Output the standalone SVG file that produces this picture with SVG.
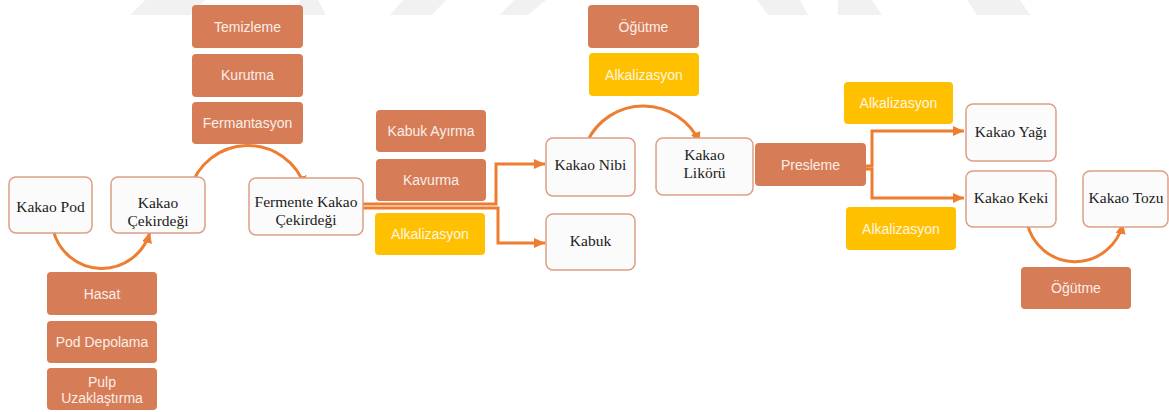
<svg xmlns="http://www.w3.org/2000/svg" width="1169" height="412" viewBox="0 0 1169 412">
<style>
.wm{fill:#f1f1f1}
.wb{fill:#fbfbfb;stroke:#dc9f86;stroke-width:1.5}
.ob{fill:#d67c57}
.yb{fill:#ffc000}
.st{font-family:"Liberation Serif","Times New Roman",serif;font-size:15.5px;fill:#1a1a1a;text-anchor:middle}
.ot{font-family:"Liberation Sans",Arial,sans-serif;font-size:14px;fill:#fbeee8;text-anchor:middle}
.yt{font-family:"Liberation Sans",Arial,sans-serif;font-size:14px;fill:#fff6e0;text-anchor:middle}
.cn{fill:none;stroke:#ed7d31;stroke-width:3;marker-end:url(#ah)}
</style>
<defs>
<marker id="ah" markerUnits="userSpaceOnUse" markerWidth="12" markerHeight="12" viewBox="0 0 12 12" refX="11" refY="6" orient="auto">
<path d="M0,1 L11,6 L0,11 Z" fill="#ed7d31"/>
</marker>
</defs>
<rect width="1169" height="412" fill="#ffffff"/>
<g id="watermark">
<polygon class="wm" points="130,15 145,0 205,0 190,15"/>
<polygon class="wm" points="298,15 300,0 318,0 326,15"/>
<polygon class="wm" points="390,15 403,0 446,0 432,15"/>
<polygon class="wm" points="500,15 514,0 546,0 528,15"/>
<polygon class="wm" points="757,0 800,0 808,15 768,15"/>
<polygon class="wm" points="838,0 872,0 882,15 838,15"/>
<polygon class="wm" points="967,0 1020,0 1030,15 977,15"/>
</g>
<g id="connectors">
<path class="cn" d="M53,229 A50,50 0 0 0 150,232"/>
<path class="cn" d="M190,190 A60,60 0 0 1 305,187"/>
<path class="cn" d="M587,142 A62,62 0 0 1 700,143"/>
<path class="cn" d="M1027,222 A49,49 0 0 0 1123,223"/>
<path class="cn" d="M363,204 H496 V164 H545"/>
<path class="cn" d="M363,208 H498 V243 H545"/>
<path class="cn" d="M866,166 H872 V131 H964"/>
<path class="cn" d="M866,169 H872 V198 H964"/>
</g>
<g id="kakao-pod"><rect class="wb" x="9" y="177" width="83" height="56" rx="7"/><text class="st" x="50.5" y="212">Kakao Pod</text></g>
<g id="kakao-cekirdegi"><rect class="wb" x="111" y="177" width="94" height="56" rx="7"/><text class="st" x="158" y="208">Kakao</text><text class="st" x="158" y="226">Çekirdeği</text></g>
<g id="hasat"><rect class="ob" x="47" y="272" width="110" height="43" rx="4"/><text class="ot" x="102" y="299">Hasat</text></g>
<g id="pod-depolama"><rect class="ob" x="47" y="321" width="110" height="42" rx="4"/><text class="ot" x="102" y="347">Pod Depolama</text></g>
<g id="pulp"><rect class="ob" x="47" y="368" width="110" height="42" rx="4"/><text class="ot" x="102" y="387">Pulp</text><text class="ot" x="102" y="403">Uzaklaştırma</text></g>
<g id="temizleme"><rect class="ob" x="192" y="5" width="111" height="43" rx="4"/><text class="ot" x="247.5" y="32">Temizleme</text></g>
<g id="kurutma"><rect class="ob" x="192" y="54" width="111" height="43" rx="4"/><text class="ot" x="247.5" y="80">Kurutma</text></g>
<g id="fermantasyon"><rect class="ob" x="192" y="102" width="111" height="42" rx="4"/><text class="ot" x="247.5" y="128">Fermantasyon</text></g>
<g id="fermente"><rect class="wb" x="249" y="178" width="114" height="57" rx="7"/><text class="st" x="306" y="207">Fermente Kakao</text><text class="st" x="306" y="225">Çekirdeği</text></g>
<g id="kabuk-ayirma"><rect class="ob" x="376" y="110" width="110" height="42" rx="4"/><text class="ot" x="431" y="136">Kabuk Ayırma</text></g>
<g id="kavurma"><rect class="ob" x="376" y="159" width="110" height="42" rx="4"/><text class="ot" x="431" y="185">Kavurma</text></g>
<g id="alkalizasyon-1"><rect class="yb" x="375" y="213" width="110" height="42" rx="4"/><text class="yt" x="430" y="239">Alkalizasyon</text></g>
<g id="kakao-nibi"><rect class="wb" x="546" y="138" width="89" height="58" rx="7"/><text class="st" x="590.5" y="170">Kakao Nibi</text></g>
<g id="kabuk"><rect class="wb" x="546" y="214" width="89" height="56" rx="7"/><text class="st" x="590.5" y="246">Kabuk</text></g>
<g id="ogutme-1"><rect class="ob" x="588" y="5" width="111" height="43" rx="4"/><text class="ot" x="643.5" y="32">Öğütme</text></g>
<g id="alkalizasyon-2"><rect class="yb" x="589" y="53" width="110" height="43" rx="4"/><text class="yt" x="644" y="80">Alkalizasyon</text></g>
<g id="kakao-likoru"><rect class="wb" x="656" y="138" width="97" height="57" rx="7"/><text class="st" x="704.5" y="160">Kakao</text><text class="st" x="704.5" y="178">Likörü</text></g>
<g id="presleme"><rect class="ob" x="755" y="143" width="111" height="43" rx="4"/><text class="ot" x="810.5" y="170">Presleme</text></g>
<g id="alkalizasyon-3"><rect class="yb" x="844" y="82" width="109" height="42" rx="4"/><text class="yt" x="898.5" y="108">Alkalizasyon</text></g>
<g id="alkalizasyon-4"><rect class="yb" x="846" y="207" width="110" height="43" rx="4"/><text class="yt" x="901" y="234">Alkalizasyon</text></g>
<g id="kakao-yagi"><rect class="wb" x="966" y="104" width="90" height="57" rx="7"/><text class="st" x="1011" y="137">Kakao Yağı</text></g>
<g id="kakao-keki"><rect class="wb" x="966" y="171" width="90" height="56" rx="7"/><text class="st" x="1011" y="203">Kakao Keki</text></g>
<g id="kakao-tozu"><rect class="wb" x="1083" y="171" width="85" height="56" rx="7"/><text class="st" x="1126" y="203">Kakao Tozu</text></g>
<g id="ogutme-2"><rect class="ob" x="1021" y="267" width="110" height="42" rx="4"/><text class="ot" x="1076" y="293">Öğütme</text></g>
</svg>
